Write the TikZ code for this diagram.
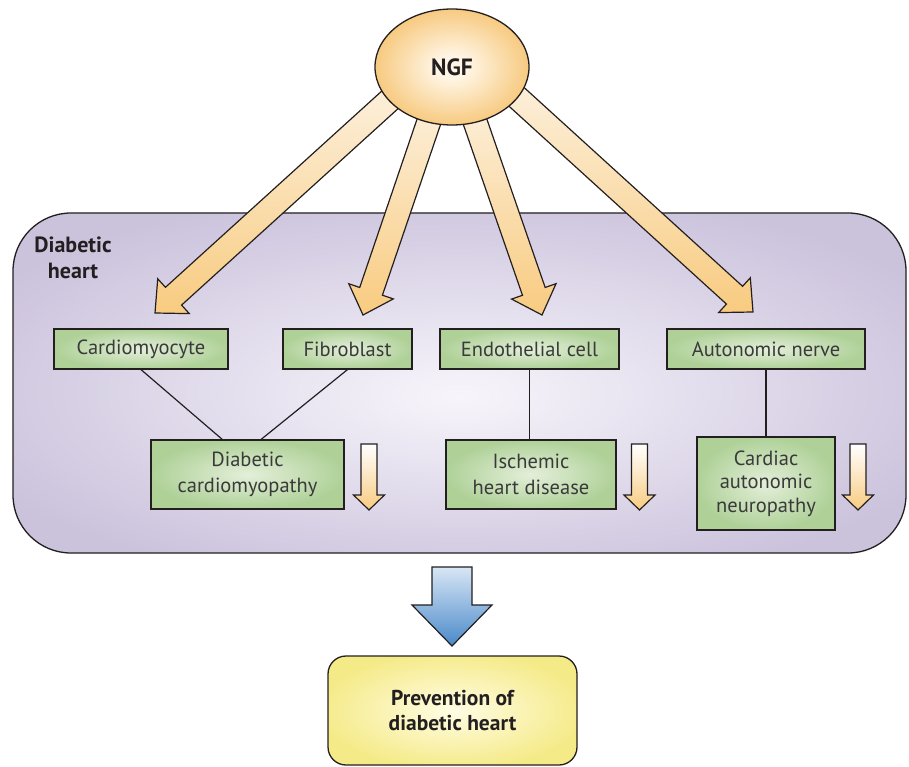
\documentclass[tikz,border=0pt]{standalone}
\usepackage{fontspec}
\setmainfont{PT Sans}
\usepackage{tikz}
\usetikzlibrary{calc, shapes.geometric}
\definecolor{ink}{HTML}{231F20}
\definecolor{boxtext}{HTML}{3A3A3A}
\definecolor{heartmid}{HTML}{F7F5FB}
\definecolor{heartedge}{HTML}{CBC2DC}
\definecolor{cellmid}{HTML}{E4EFDA}
\definecolor{celledge}{HTML}{AFD198}
\definecolor{ngfmid}{HTML}{FFF5E4}
\definecolor{ngfedge}{HTML}{F7CA80}
\definecolor{arrtop}{HTML}{FDF3E3}
\definecolor{arrbot}{HTML}{F8CB80}
\definecolor{bluetop}{HTML}{D8E6F5}
\definecolor{bluebot}{HTML}{4A89C9}
\definecolor{prevmid}{HTML}{FFFDE4}
\definecolor{prevedge}{HTML}{F5EA88}

\pgfdeclareradialshading{heartshade}{\pgfpoint{0bp}{-2bp}}{color(0bp)=(heartmid); color(30bp)=(heartedge); color(50bp)=(heartedge)}
\pgfdeclareradialshading{cellshade}{\pgfpoint{0bp}{0bp}}{color(0bp)=(cellmid); color(25bp)=(celledge); color(50bp)=(celledge)}
\pgfdeclareradialshading{ngfshade}{\pgfpoint{0bp}{0bp}}{color(0bp)=(ngfmid); color(5bp)=(ngfmid); color(25bp)=(ngfedge); color(50bp)=(ngfedge)}
\pgfdeclareradialshading{prevshade}{\pgfpoint{0bp}{0bp}}{color(0bp)=(prevmid); color(27bp)=(prevedge); color(50bp)=(prevedge)}

\begin{document}
\begin{tikzpicture}[
    x=1pt, y=-1pt,
    heartbox/.style={draw=ink, line width=1.3pt, rounded corners=58pt, shading=heartshade, minimum width=893pt, minimum height=340pt, inner sep=0pt},
    lbl/.style={font=\fontsize{22}{26}\selectfont\bfseries, text=ink, align=center},
    ngfnode/.style={ellipse, draw=ink, line width=1.3pt, shading=ngfshade, inner sep=0pt, font=\fontsize{23.5}{26}\selectfont\bfseries, text=ink},
    cell/.style={draw=ink, line width=1.2pt, shading=cellshade, inner sep=0pt, text=boxtext, align=center, font=\fontsize{20.5}{26}\selectfont},
    prevbox/.style={draw=ink, line width=1.3pt, rounded corners=18pt, shading=prevshade, inner sep=0pt, align=center, text=ink, font=\fontsize{21.5}{25}\selectfont\bfseries},
    bigarr/.style={draw=ink, line width=1.2pt, top color=arrtop, bottom color=arrbot},
    downarr/.style={draw=ink, line width=1.2pt, top color=white, bottom color=arrbot},
    bluearr/.style={draw=ink, line width=1.2pt, top color=bluetop, bottom color=bluebot},
    link/.style={draw=ink, line width=1.2pt}
  ]
    \useasboundingbox (0,0) rectangle (909,767);

    % diabetic heart panel
    \node[heartbox] (heart) at (459.5,383) {};
    \node[lbl] (hlabel) at (73,258) {Diabetic\\heart};

    % wide arrows out of NGF
    \coordinate (s1) at (414,78);  \coordinate (t1) at (155,313);
    \coordinate (s2) at (441,86);  \coordinate (t2) at (363,315);
    \coordinate (s3) at (462,84);  \coordinate (t3) at (542,315);
    \coordinate (s4) at (487,70);  \coordinate (t4) at (753,312);
    \foreach \s/\t in {s1/t1, s2/t2, s3/t3, s4/t4}{
      \coordinate (hb) at ($(\t)!25pt!(\s)$);
      \draw[bigarr] ($(\s)!12pt!90:(\t)$) -- ($(hb)!12pt!90:(\t)$) -- ($(hb)!23.5pt!90:(\t)$)
        -- (\t) -- ($(hb)!23.5pt!-90:(\t)$) -- ($(hb)!12pt!-90:(\t)$) -- ($(\s)!12pt!-90:(\t)$) -- cycle;
    }
    \node[ngfnode, minimum width=154pt, minimum height=116pt] (ngf) at (452,67) {NGF};

    % cell types
    \node[cell, minimum width=174pt, minimum height=40pt] (cardio) at (141,349) {Cardiomyocyte};
    \node[cell, minimum width=129pt, minimum height=40pt] (fibro) at (347.5,349) {Fibroblast};
    \node[cell, minimum width=179pt, minimum height=40pt] (endo) at (529.5,349) {Endothelial cell};
    \node[cell, minimum width=198pt, minimum height=40pt] (nerve) at (766,349) {Autonomic nerve};

    % diseases
    \node[cell, minimum width=193pt, minimum height=69pt] (dcm) at (247.5,474.5) {Diabetic\\cardiomyopathy};
    \node[cell, minimum width=170pt, minimum height=69pt] (ihd) at (531,474.5) {Ischemic\\heart disease};
    \node[cell, minimum width=138pt, minimum height=93pt, font=\fontsize{20.5}{23.5}\selectfont] (can) at (766,483.5) {Cardiac\\autonomic\\neuropathy};

    \draw[link] (cardio.south) -- ($(dcm.north west)!0.37!(dcm.north east)$);
    \draw[link] (fibro.south) -- ($(dcm.north west)!0.57!(dcm.north east)$);
    \draw[link] (endo.south) -- (endo.south |- ihd.north);
    \draw[link] (nerve.south) -- (nerve.south |- can.north);

    % decrease marks
    \foreach \ax in {369,639.5,858}
      \draw[downarr] (\ax-8,444) -- (\ax+8,444) -- (\ax+8,495) -- (\ax+15.5,495)
        -- (\ax,510) -- (\ax-15.5,495) -- (\ax-8,495) -- cycle;

    % outcome
    \draw[bluearr] (432,567) -- (472,567) -- (472,605) -- (492,605) -- (452,646) -- (412,605) -- (432,605) -- cycle;
    \node[prevbox, minimum width=249pt, minimum height=109pt] (prev) at (452.5,710.5) {Prevention of\\diabetic heart};
  \end{tikzpicture}
\end{document}
